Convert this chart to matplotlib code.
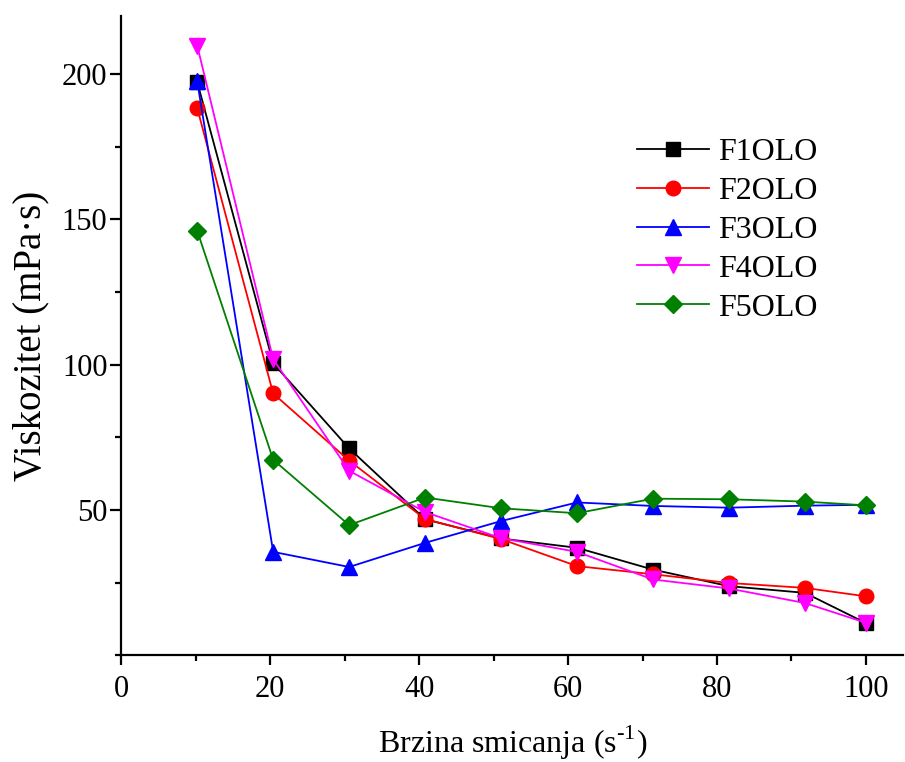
import matplotlib
matplotlib.use("Agg")
import matplotlib.pyplot as plt
from matplotlib.ticker import MultipleLocator

# shear rate (1/s)
shear = [10.2, 20.4, 30.6, 40.8, 51.0, 61.2, 71.4, 81.6, 91.8, 100.0]

# viscosity (mPa·s) for each formulation
f1 = [197.3, 100.5, 71.2, 46.8, 40.2, 37.0, 29.5, 23.8, 21.5, 11.1]
f2 = [188.3, 90.1, 67.0, 46.9, 40.0, 30.7, 27.9, 24.9, 23.2, 20.3]
f3 = [197.5, 35.6, 30.4, 38.7, 46.2, 52.6, 51.4, 50.8, 51.5, 51.8]
f4 = [209.8, 101.9, 63.5, 49.3, 40.3, 35.6, 26.1, 23.0, 18.0, 11.2]
f5 = [146.1, 67.3, 44.8, 54.3, 50.6, 48.9, 53.9, 53.7, 52.9, 51.6]

labels = ["F1OLO", "F2OLO", "F3OLO", "F4OLO", "F5OLO"]
series = [f1, f2, f3, f4, f5]
colors = ["black", "red", "blue", "magenta", "green"]
markers = ["s", "o", "^", "v", "D"]
msizes = [9.5, 10.5, 11.5, 11.5, 9.5]

plt.rcParams["font.family"] = ["Liberation Serif", "DejaVu Serif"]
plt.rcParams["mathtext.fontset"] = "custom"
plt.rcParams["mathtext.rm"] = "Liberation Serif"

fig = plt.figure(figsize=(9.05, 7.62), dpi=100)
ax = fig.add_axes([0.134, 0.140, 0.864, 0.839])

for ys, lab, c, m, ms in zip(series, labels, colors, markers, msizes):
    ax.plot(shear, ys, color=c, marker=m, markersize=ms, linewidth=1.3,
            label=lab)

ax.set_xlim(0, 105)
ax.set_ylim(0, 220)
ax.xaxis.set_major_locator(MultipleLocator(20))
ax.xaxis.set_minor_locator(MultipleLocator(10))
ax.set_yticks([50, 100, 150, 200])
ax.yaxis.set_minor_locator(MultipleLocator(25))

for side in ["top", "right"]:
    ax.spines[side].set_visible(False)
for side in ["left", "bottom"]:
    ax.spines[side].set_linewidth(1.6)

ax.tick_params(which="major", direction="out", length=8, width=1.6,
               labelsize=22)
ax.tick_params(which="minor", direction="out", length=4, width=1.6)
ax.tick_params(axis="x", which="major", length=7, pad=7)
ax.tick_params(axis="y", which="major", pad=2)

ax.set_xlabel("Brzina smicanja (s$^{\\mathregular{\u2010}1}$)", fontsize=23,
              labelpad=14)
ax.set_ylabel("Viskozitet (mPa·s)", fontsize=28, labelpad=9)

ax.legend(loc="upper left", bbox_to_anchor=(0.643, 0.83), frameon=False,
          fontsize=23, handlelength=2.25, handletextpad=0.3,
          labelspacing=0.3, borderaxespad=0)

fig.savefig("out.png", dpi=100)
